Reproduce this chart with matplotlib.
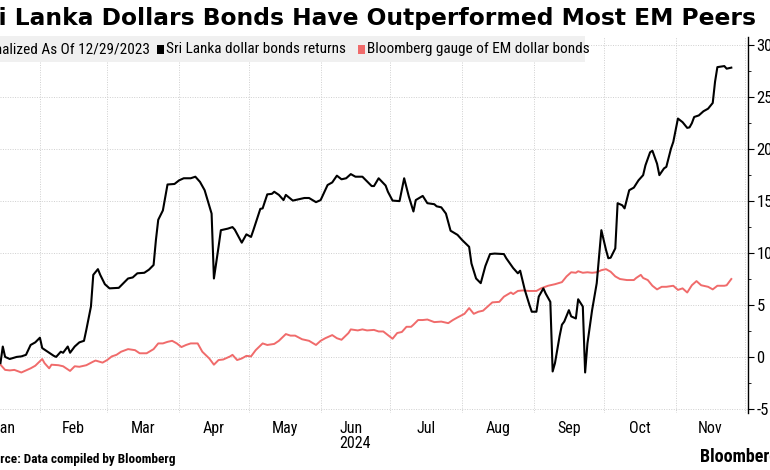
import numpy as np
import matplotlib
matplotlib.use("Agg")
import matplotlib.pyplot as plt
import matplotlib.dates as mdates
from matplotlib.patches import Rectangle
from matplotlib.ticker import MultipleLocator

# returns, % (normalized as of 12/29/2023); x = days after 2024-01-01
sl_days = [14, 15, 16, 18, 21, 23, 25, 27, 29, 31, 32, 34, 37, 38, 40, 41, 43, 44,
           46, 48, 50, 51, 53, 54, 56, 57, 59, 61, 65, 67, 69, 71, 73, 76, 78, 80,
           81, 82, 84, 86, 89, 91, 93, 96, 98, 100, 102, 105, 106, 108, 109, 112,
           114, 115, 118, 120, 122, 123, 126, 127, 129, 131, 132, 134, 136, 137,
           140, 145, 147, 150, 152, 155, 157, 159, 161, 163, 165, 167, 170, 174,
           175, 177, 180, 181, 183, 186, 188, 190, 192, 193, 196, 198, 201, 202,
           204, 206, 208, 211, 213, 216, 217, 219, 221, 223, 225, 227, 231, 232,
           235, 237, 238, 240, 242, 243, 245, 246, 248, 249, 251, 252, 253, 255,
           256, 257, 259, 260, 262, 263, 265, 266, 267, 269, 271, 273, 275, 276,
           277, 279, 280, 282, 283, 285, 287, 289, 291, 292, 294, 295, 297, 298,
           300, 301, 303, 304, 306, 308, 310, 311, 312, 313, 315, 317, 319, 321,
           322, 323, 326, 327, 329]
sl_ret = [-0.6, 1.0, 0.0, -0.2, 0.0, 0.05, 0.2, 1.15, 1.4, 1.85, 0.85, 0.55, 0.1, 0.0,
          0.5, 0.4, 1.0, 0.4, 1.0, 1.4, 1.55, 2.6, 4.85, 7.9, 8.45, 7.9, 7.0, 6.6,
          6.65, 7.1, 7.55, 7.65, 8.05, 8.1, 8.4, 8.85, 11.25, 13.2, 14.1, 16.6,
          16.65, 17.0, 17.2, 17.2, 17.35, 16.85, 16.05, 13.8, 7.55, 10.6, 12.2,
          12.35, 12.5, 12.25, 11.0, 11.8, 11.55, 12.2, 14.25, 14.3, 15.65, 15.7,
          15.9, 15.6, 15.1, 15.6, 15.05, 15.3, 15.3, 14.9, 15.1, 16.55, 16.8,
          17.45, 17.1, 17.2, 17.6, 17.35, 17.35, 16.45, 16.45, 17.2, 16.5, 15.9,
          15.05, 15.0, 17.2, 15.45, 14.0, 15.1, 15.5, 14.8, 14.7, 14.5, 14.4, 13.8,
          12.15, 11.75, 11.25, 10.6, 9.0, 7.55, 7.1, 8.75, 9.9, 9.95, 9.9, 9.5,
          8.55, 8.05, 8.3, 6.45, 5.0, 4.35, 4.35, 5.8, 6.6, 6.1, 5.3, -1.4, -0.6,
          2.0, 3.1, 3.4, 4.5, 3.9, 3.7, 5.55, 4.85, -1.5, 1.3, 4.5, 7.1, 12.2,
          10.3, 9.5, 9.55, 10.45, 14.8, 14.6, 14.3, 16.05, 16.3, 17.0, 17.5,
          18.45, 19.7, 19.85, 18.6, 17.5, 18.15, 18.3, 20.05, 20.7, 22.95, 22.6,
          22.05, 22.1, 22.5, 23.1, 23.25, 23.65, 23.9, 24.45, 26.5, 27.9, 28.0,
          27.75, 27.85]

em_days = [14, 16, 18, 20, 23, 25, 27, 29, 32, 33, 35, 36, 39, 41, 44, 46, 48, 51,
           54, 55, 58, 60, 62, 64, 66, 69, 72, 74, 77, 80, 82, 84, 86, 88, 90, 92,
           94, 96, 99, 101, 104, 106, 108, 110, 113, 114, 116, 118, 120, 122, 124,
           127, 129, 132, 134, 137, 139, 141, 144, 147, 150, 152, 154, 157, 159,
           161, 164, 165, 168, 170, 172, 175, 177, 179, 181, 183, 185, 187, 189,
           191, 192, 194, 196, 198, 201, 204, 207, 209, 211, 214, 216, 218, 220,
           222, 224, 226, 229, 231, 234, 235, 237, 239, 242, 245, 247, 250, 253,
           256, 258, 260, 262, 263, 265, 267, 269, 271, 273, 275, 277, 279, 281,
           284, 287, 288, 290, 291, 293, 295, 297, 299, 301, 304, 306, 308, 310,
           312, 314, 316, 319, 321, 323, 326, 327, 329]
em_ret = [-0.75, -1.25, -1.3, -1.25, -1.5, -1.3, -1.1, -0.85, -0.2, -0.6, -1.1,
          -0.75, -0.8, -0.9, -1.35, -0.9, -0.95, -0.8, -0.45, -0.35, -0.55, -0.3,
          0.05, 0.2, 0.5, 0.75, 0.65, 0.35, 0.35, 0.75, 1.3, 1.3, 1.45, 1.55, 1.3,
          0.95, 1.15, 1.3, 1.3, 0.5, -0.15, -0.75, -0.3, -0.25, 0.05, 0.2, -0.3,
          -0.15, 0.1, 0.05, 0.65, 1.3, 1.15, 1.25, 1.55, 2.2, 2.05, 2.05, 1.7,
          1.55, 1.15, 1.55, 1.8, 2.1, 1.8, 1.65, 2.3, 2.65, 2.55, 2.65, 2.55, 2.6,
          2.45, 2.45, 2.1, 1.75, 2.3, 2.4, 2.9, 2.9, 3.1, 3.55, 3.55, 3.6, 3.35,
          3.4, 3.25, 3.55, 3.8, 4.15, 4.7, 4.15, 4.35, 4.45, 4.85, 5.25, 5.3, 5.8,
          6.2, 6.05, 6.35, 6.4, 6.35, 6.35, 6.6, 6.85, 7.0, 7.2, 7.75, 8.15, 8.1,
          8.25, 8.1, 8.15, 8.1, 8.15, 8.35, 8.45, 8.2, 7.75, 7.5, 7.4, 7.4, 7.6,
          7.9, 7.6, 7.4, 6.85, 6.5, 6.75, 6.75, 6.85, 6.45, 6.6, 6.2, 6.9, 7.3,
          6.9, 6.75, 6.5, 6.85, 6.85, 6.9, 7.5]

months = ["Jan", "Feb", "Mar", "Apr", "May", "Jun", "Jul", "Aug", "Sep", "Oct", "Nov"]
title = "Sri Lanka Dollars Bonds Have Outperformed Most EM Peers"
legend_first = "Normalized As Of 12/29/2023"
sl_label = "Sri Lanka dollar bonds returns"
em_label = "Bloomberg gauge of EM dollar bonds"
source = "Source: Data compiled by Bloomberg"

plt.rcParams["axes.unicode_minus"] = False
narrow = ["Roboto Condensed", "Archivo Narrow", "Liberation Sans Narrow", "DejaVu Sans"]
red = "#f06b6b"

base = np.datetime64("2024-01-01")
sl_dates = base + np.array(sl_days).astype("timedelta64[D]")
em_dates = base + np.array(em_days).astype("timedelta64[D]")

W, H = 770, 470
fig = plt.figure(figsize=(7.7, 4.7), dpi=100)

ax = fig.add_axes([0, (H - 413) / H, 748 / W, 376 / H])
ax.plot(em_dates, em_ret, color=red, lw=1.4, zorder=3)
ax.plot(sl_dates, sl_ret, color="black", lw=1.5, zorder=4)

x0 = mdates.date2num(base) + 13.8
x1 = mdates.date2num(base) + 336.2
ax.set_xlim(x0, x1)
ax.set_ylim(-5.4, 30.8)

month_starts = [mdates.date2num(np.datetime64("2024-%02d-01" % m)) for m in range(1, 13)]
mid = [(month_starts[i] + month_starts[i + 1]) / 2 for i in range(11)]
ax.set_xticks(month_starts[1:], minor=False)
ax.set_xticklabels([])
ax.set_xticks(mid, minor=True)
ax.set_xticklabels([m if m != "Jun" else "Jun\n2024" for m in months], minor=True,
                   family=narrow, fontsize=11.5, va="top", linespacing=1.0)
ax.tick_params(axis="x", which="both", length=0, pad=6)
for lbl in ax.get_xticklabels(minor=True):
    lbl.set_multialignment("left")

ax.yaxis.tick_right()
ax.yaxis.set_major_locator(MultipleLocator(5))
ax.yaxis.set_minor_locator(MultipleLocator(2.5))
ax.tick_params(axis="y", which="major", length=4, width=0.8, pad=2,
               labelsize=12, direction="out")
ax.tick_params(axis="y", which="minor", length=2, width=0.6, direction="out")
for lbl in ax.get_yticklabels():
    lbl.set_family(narrow)

ax.grid(True, which="major", color="#cfcfcf", lw=0.7, ls=(0, (1, 1.5)))
for s in ["left", "top", "bottom"]:
    ax.spines[s].set_visible(False)
ax.spines["right"].set_linewidth(1.0)

# title and legend strip (left side cropped as in the source image)
r = fig.canvas.get_renderer()


def width_px(s, **kw):
    t = fig.text(0, 0, s, **kw)
    w = t.get_window_extent(r).width
    t.remove()
    return w


def cropped_text(s, hidden, x_px, y_px, **kw):
    w = width_px(hidden, **kw)
    return fig.text((x_px - w) / W, 1 - y_px / H, s, **kw)


cropped_text(title, "Sr", -1, 19, fontsize=16.8, fontweight="bold",
             family="DejaVu Sans", va="center")

leg_kw = dict(fontsize=11, family=narrow, va="center")
fig.patches.append(Rectangle((0, 1 - 62 / H), 585 / W, 26 / H, transform=fig.transFigure,
                             facecolor="#f0f0f0", edgecolor="none", zorder=0))
t0 = cropped_text(legend_first, "Nor", -9, 49, **leg_kw)
x = t0.get_window_extent(r).x1 + 7
for lab, col, gap in [(sl_label, "black", 12), (em_label, red, 0)]:
    fig.patches.append(Rectangle((x / W, 1 - 53.5 / H), 7 / W, 9 / H,
                                 transform=fig.transFigure, facecolor=col, edgecolor="none"))
    t = fig.text((x + 9) / W, 1 - 49 / H, lab, **leg_kw)
    x = t.get_window_extent(r).x1 + gap

cropped_text(source, "Sou", 0, 460, fontsize=9.5, fontweight="bold", family=narrow,
             va="center")
fig.text(700 / W, 1 - 457 / H, "Bloomberg", fontsize=13, fontweight="bold",
         family=narrow, va="center")

fig.savefig("out.png", dpi=100)
